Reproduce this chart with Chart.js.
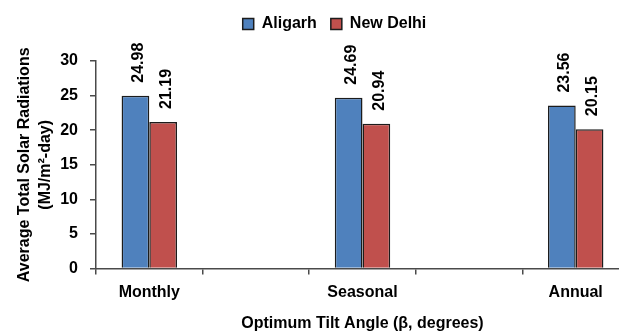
<!DOCTYPE html>
<html>
<head>
<meta charset="utf-8">
<script src="https://cdn.jsdelivr.net/npm/chart.js@4.4.1/dist/chart.umd.min.js"></script>
<style>
	html, body { margin: 0; padding: 0; background: #fff; overflow: hidden; }
	#wrap { width: 640px; height: 336px; }
</style>
</head>
<body>
<div id="wrap"><canvas id="myChart" width="640" height="336"></canvas></div>
<script>
// the gaps between groups are empty categories in the original
const categories = ['Monthly', '', 'Seasonal', '', 'Annual'];
const aligarh = [24.98, null, 24.69, null, 23.56];
const newDelhi = [21.19, null, 20.94, null, 20.15];
const yTicks = [0, 5, 10, 15, 20, 25, 30];

const font = { family: '"Liberation Sans", Arial, sans-serif', size: 16, weight: 'bold' };
const axisColor = '#4a4a4a';

// vertical value labels above each bar
const barValues = {
	id: 'barValues',
	afterDatasetsDraw(chart) {
		const ctx = chart.ctx;
		ctx.save();
		ctx.font = 'bold 16px "Liberation Sans", Arial, sans-serif';
		ctx.fillStyle = '#000';
		ctx.textAlign = 'left';
		ctx.textBaseline = 'middle';
		chart.data.datasets.forEach((ds, i) => {
			chart.getDatasetMeta(i).data.forEach((bar, j) => {
				const v = ds.data[j];
				if (v === null) return;
				ctx.save();
				ctx.translate(bar.x + 3, bar.y - 13);
				ctx.rotate(-Math.PI / 2);
				ctx.fillText(v.toFixed(2), 0, 0);
				ctx.restore();
			});
		});
		ctx.restore();
	}
};

// more room under the legend, and nudge it sideways like the original
const legendShift = {
	id: 'legendShift',
	beforeInit(chart) {
		const fit = chart.legend.fit;
		chart.legend.fit = function() {
			fit.call(this);
			this.height += 19;
		};
	},
	afterLayout(chart) {
		chart.legend.left += 13;
		chart.legend.right += 13;
	}
};

new Chart(document.getElementById('myChart'), {
	type: 'bar',
	data: {
		labels: categories,
		datasets: [{
			label: 'Aligarh',
			data: aligarh,
			backgroundColor: '#4f81bd',
			borderColor: '#1c1c1c',
			borderWidth: 1.5,
			categoryPercentage: 0.52,
			barPercentage: 1.0
		}, {
			label: 'New Delhi',
			data: newDelhi,
			backgroundColor: '#c0504d',
			borderColor: '#1c1c1c',
			borderWidth: 1.5,
			categoryPercentage: 0.52,
			barPercentage: 1.0
		}]
	},
	options: {
		responsive: false,
		animation: false,
		layout: { padding: { left: 14, right: 11, top: 2, bottom: 3 } },
		plugins: {
			legend: {
				position: 'top',
				labels: {
					font: font,
					color: '#000',
					boxWidth: 11,
					boxHeight: 11,
					padding: 14
				}
			},
			tooltip: { enabled: false }
		},
		scales: {
			x: {
				grid: { display: true, drawOnChartArea: false, drawTicks: true, tickLength: 6, color: axisColor, lineWidth: 1.5 },
				border: { display: true, color: axisColor, width: 1.5 },
				ticks: { font: font, color: '#000', padding: 8, maxRotation: 0 },
				title: { display: true, text: 'Optimum Tilt Angle (β, degrees)', font: font, color: '#000', padding: { top: 4, bottom: 0 } }
			},
			y: {
				min: 0,
				max: 30,
				afterBuildTicks: (scale) => { scale.ticks = yTicks.map(v => ({ value: v })); },
				afterFit: (scale) => { scale.width = 82; },
				grid: { display: true, drawOnChartArea: false, drawTicks: true, tickLength: 6, color: axisColor, lineWidth: 1.5 },
				border: { display: true, color: axisColor, width: 1.5 },
				ticks: { font: font, color: '#000', padding: 12 },
				title: {
					display: true,
					text: ['Average Total Solar Radiations', '(MJ/m²-day)'],
					font: Object.assign({}, font, { lineHeight: 1.3 }),
					color: '#000',
					padding: { top: 0, bottom: 0 }
				}
			}
		}
	},
	plugins: [barValues, legendShift]
});
</script>
</body>
</html>
